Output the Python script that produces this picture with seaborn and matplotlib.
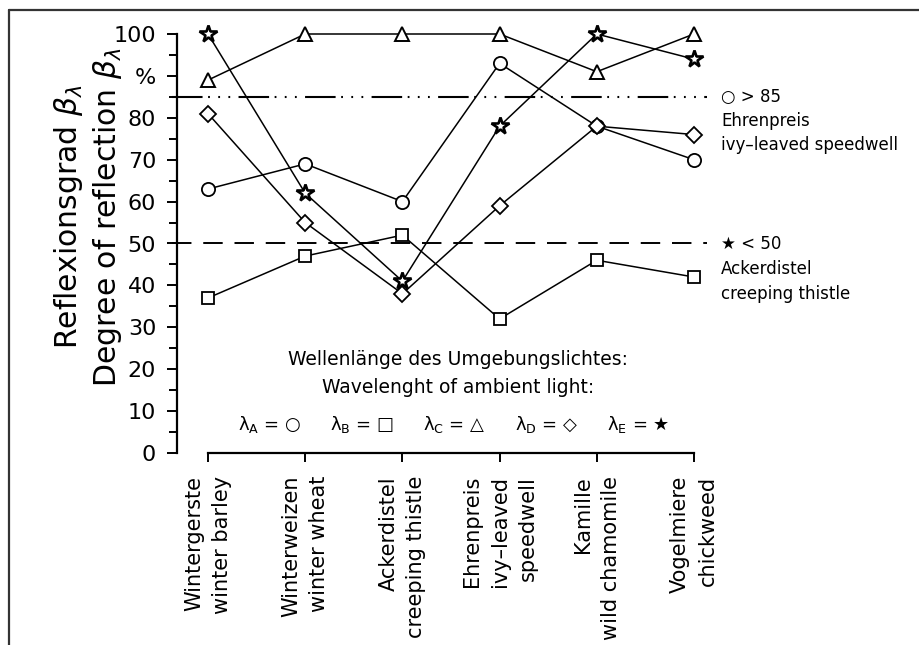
import numpy as np
import pandas as pd
import matplotlib
matplotlib.use("Agg")
import matplotlib.pyplot as plt
import seaborn as sns
from matplotlib.lines import Line2D
from matplotlib.ticker import FixedLocator

# ---------------- data ----------------
categories = [
    "Wintergerste\nwinter barley",
    "Winterweizen\nwinter wheat",
    "Ackerdistel\ncreeping thistle",
    "Ehrenpreis\nivy\u2013leaved\nspeedwell",
    "Kamille\nwild chamomile",
    "Vogelmiere\nchickweed",
]
lambda_A = [63, 69, 60, 93, 78, 70]      # circle
lambda_B = [37, 47, 52, 32, 46, 42]      # square
lambda_C = [89, 100, 100, 100, 91, 100]  # triangle
lambda_D = [81, 55, 38, 59, 78, 76]      # diamond
lambda_E = [100, 62, 41, 78, 100, 94]    # star
series_names = ["A", "B", "C", "D", "E"]
series_symbols = ["\u25CB", "\u25A1", "\u25B3", "\u25C7", "\u2605"]
ytick_values = [0, 10, 20, 30, 40, 50, 60, 70, 80, 90, 100]
ytick_labels = ["0", "10", "20", "30", "40", "50", "60", "70", "80", "%", "100"]
threshold_high = 85
threshold_low = 50

# ---------------- style ----------------
sns.set_style("ticks")
plt.rcParams["font.family"] = ["DejaVu Sans"]
plt.rcParams["mathtext.fontset"] = "dejavusans"
plt.rcParams["lines.scale_dashes"] = False
for k in ["text.color", "axes.labelcolor", "xtick.color", "ytick.color", "axes.edgecolor"]:
    plt.rcParams[k] = "black"

W, H = 919, 645
fig = plt.figure(figsize=(W / 100, H / 100), dpi=100)
fig.patch.set_facecolor("white")

# axes geometry (pixels)
x_left_px, x0_px, dx_px = 177, 208, 97.2
y0_px, dy_px = 453, 4.19
xmin = (x_left_px - x0_px) / dx_px
xmax = 5.08
ymax = 103
ax = fig.add_axes([
    x_left_px / W,
    (H - y0_px) / H,
    (xmax - xmin) * dx_px / W,
    ymax * dy_px / H,
])
ax.set_facecolor("white")

x = np.arange(len(categories))
df = pd.DataFrame({
    "x": np.tile(x, 5),
    "value": lambda_A + lambda_B + lambda_C + lambda_D + lambda_E,
    "series": np.repeat(series_names, len(categories)),
})
markers = {"A": "o", "B": "s", "C": "^", "D": "D", "E": "*"}
msizes = {"A": 9.5, "B": 9, "C": 9.5, "D": 8, "E": 13}
mews = {"A": 1.3, "B": 1.3, "C": 1.4, "D": 1.3, "E": 1.9}

for name in series_names:
    sub = df[df["series"] == name]
    sns.lineplot(
        data=sub, x="x", y="value", ax=ax, color="black", lw=1.1,
        marker=markers[name], markersize=msizes[name],
        markerfacecolor="white", markeredgecolor="black",
        markeredgewidth=mews[name], legend=False, zorder=3, clip_on=False,
    )

# threshold lines
ax.plot([-0.37, 5.13], [threshold_high] * 2, color="black", lw=1.5,
        linestyle=(0, (22, 4, 1.3, 6, 1.3, 6, 1.3, 6)), clip_on=False, zorder=2)
ax.plot([-0.37, 5.13], [threshold_low] * 2, color="black", lw=1.4,
        linestyle=(0, (14, 8.5)), clip_on=False, zorder=2)

# right annotations
fs_ann = 12
ax.text(5.28, threshold_high, "\u25CB > 85", fontsize=fs_ann, va="center", ha="left")
ax.text(5.28, 76.4, "Ehrenpreis\nivy\u2013leaved speedwell", fontsize=fs_ann,
        va="center", ha="left", linespacing=1.45)
ax.text(5.28, threshold_low, "\u2605 < 50", fontsize=fs_ann, va="center", ha="left")
ax.text(5.28, 40.9, "Ackerdistel\ncreeping thistle", fontsize=fs_ann,
        va="center", ha="left", linespacing=1.45)

# legend block
ax.text(2.57, 22.2, "Wellenlänge des Umgebungslichtes:", fontsize=13.5,
        ha="center", va="center")
ax.text(2.57, 15.7, "Wavelenght of ambient light:", fontsize=13.5,
        ha="center", va="center")
leg_x = [0.31, 1.255, 2.21, 3.16, 4.1]
for lx, name, sym in zip(leg_x, series_names, series_symbols):
    ax.text(lx, 5.6, "\u03bb$_{\\mathregular{" + name + "}}$ = " + sym,
            fontsize=13, ha="left", va="baseline")

# axes / spines
ax.set_xlim(xmin, xmax)
ax.set_ylim(0, ymax)
for s in ["top", "right"]:
    ax.spines[s].set_visible(False)
ax.spines["left"].set_bounds(0, 100)
ax.spines["bottom"].set_bounds(0, 5)
ax.spines["left"].set_linewidth(1.6)
ax.spines["bottom"].set_linewidth(1.6)

ax.yaxis.set_major_locator(FixedLocator(ytick_values))
ax.set_yticklabels(ytick_labels)
ax.yaxis.set_minor_locator(FixedLocator(np.arange(5, 100, 10)))
ax.tick_params(axis="y", which="major", direction="out", length=7, width=1.4,
               labelsize=16, pad=8)
ax.tick_params(axis="y", which="minor", direction="out", length=6, width=1.4)

ax.set_xticks(x)
ax.set_xticklabels(categories, rotation=90, ha="center", va="top",
                   multialignment="right", linespacing=1.5)
ax.tick_params(axis="x", direction="out", length=6.5, width=1.4,
               labelsize=15, pad=10)
ax.set_xlabel("")
ax.set_ylabel("")

# y axis title
fig.text(88 / W, 1 - 217 / H,
         "Reflexionsgrad $\\beta_\\lambda$\nDegree of reflection $\\beta_\\lambda$",
         rotation=90, ha="center", va="center", multialignment="center",
         fontsize=21.5, linespacing=1.25)

# figure frame (top and left)
fig.add_artist(Line2D([9 / W, 1], [1 - 10 / H, 1 - 10 / H],
                      transform=fig.transFigure, color="#333333", lw=1.6))
fig.add_artist(Line2D([9 / W, 9 / W], [0, 1 - 10 / H],
                      transform=fig.transFigure, color="#333333", lw=1.6))

fig.savefig("out.png", dpi=100, facecolor="white")
